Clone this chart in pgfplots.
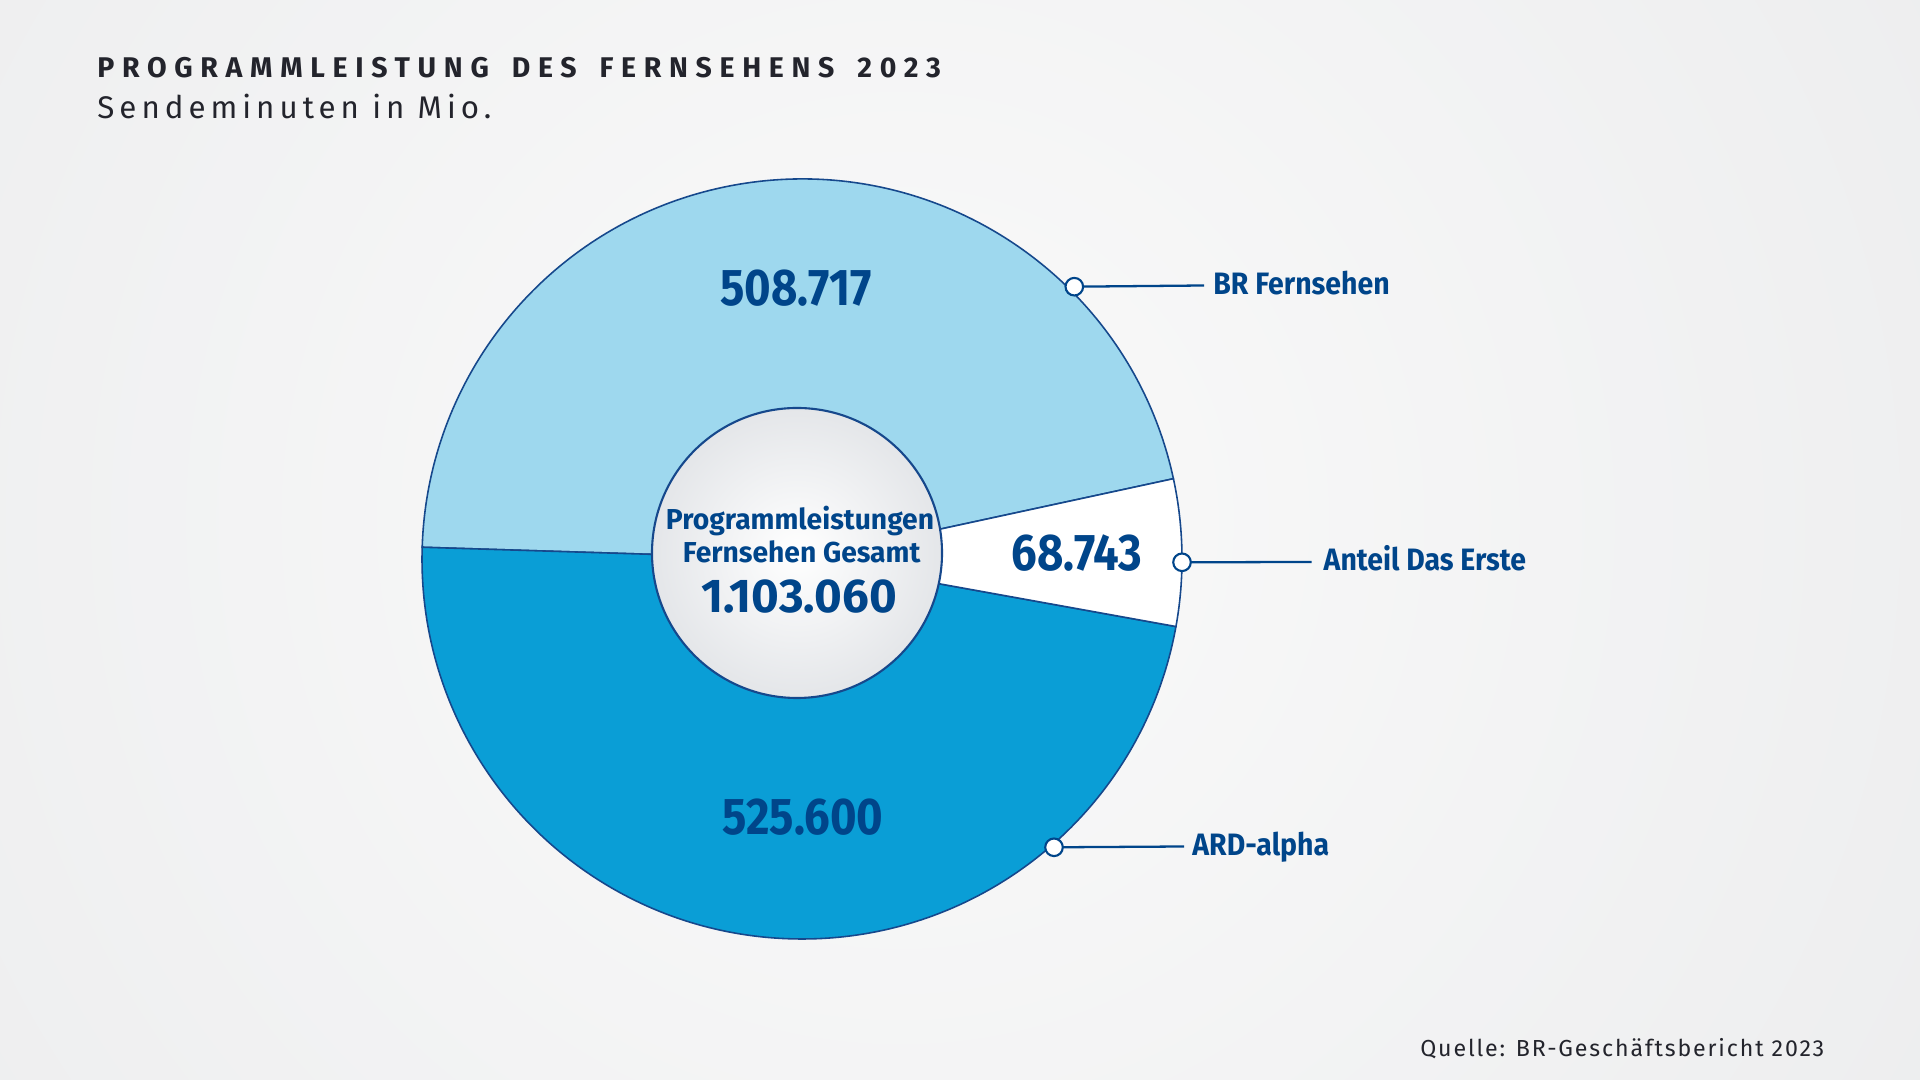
\documentclass[border=0pt]{standalone}
\usepackage{fontspec}
\setmainfont{Fira Sans}
\newfontfamily\titlefont{Fira Sans}[LetterSpace=27]
\newfontfamily\subfont{Fira Sans}[LetterSpace=16]
\newfontfamily\srcfont{Fira Sans}[LetterSpace=8]
\newfontfamily\labfont{Fira Sans}[FakeStretch=0.92]
\newfontfamily\midfont{Fira Sans}[FakeStretch=0.98]
\newfontfamily\valfont{Fira Sans}[FakeStretch=0.88]
\usepackage{pgfplots}
\pgfplotsset{compat=1.18}
\usepackage{pgfplotstable}

\definecolor{navy}{RGB}{0,69,138}
\definecolor{lineblue}{RGB}{22,72,140}
\definecolor{lightblue}{RGB}{158,216,238}
\definecolor{midblue}{RGB}{10,158,214}
\definecolor{titlegrey}{RGB}{35,36,44}
\definecolor{bgin}{RGB}{250,250,250}
\definecolor{bgout}{RGB}{228,229,231}
\definecolor{holeout}{RGB}{228,230,233}

% Sendeminuten in Mio. (Tausenderpunkt als Dezimalpunkt gespeichert)
\pgfplotstableread{
name value
BR 508.717
Erste 68.743
ARD 525.600
}\sendetable

\pgfplotstablegetelem{0}{value}\of\sendetable \let\vBR\pgfplotsretval
\pgfplotstablegetelem{1}{value}\of\sendetable \let\vDE\pgfplotsretval
\pgfplotstablegetelem{2}{value}\of\sendetable \let\vARD\pgfplotsretval
\pgfmathsetmacro\total{\vBR+\vDE+\vARD}
\def\astart{12.2}
\pgfmathsetmacro\aBR{\astart+360*(\vBR/\total)}
\pgfmathsetmacro\aARD{\aBR+360*(\vARD/\total)}
\pgfmathsetmacro\aend{\astart+360}

\newcommand\num[1]{\pgfmathprintnumber[assume math mode=true, fixed, fixed zerofill, precision=3, 1000 sep={.}]{#1}}
\newcommand\ws{\ \hspace{0.3em}}

\begin{document}
\begin{tikzpicture}
\begin{axis}[
  scale only axis, width=19.2cm, height=10.8cm,
  xmin=0, xmax=1920, ymin=0, ymax=1080,
  hide axis, clip=false,
]
  % Hintergrund
  \fill[bgout] (axis cs:0,0) rectangle (axis cs:1920,1080);
  \begin{scope}
    \clip (axis cs:0,0) rectangle (axis cs:1920,1080);
    \shade[inner color=bgin, outer color=bgout] (axis cs:900,560) circle[radius=20cm];
  \end{scope}

  % Ring
  \filldraw[fill=lightblue, draw=lineblue, line width=0.45pt]
    (axis cs:802,521) -- ++(\astart:3.8cm) arc[start angle=\astart, end angle=\aBR, radius=3.8cm] -- cycle;
  \filldraw[fill=midblue, draw=lineblue, line width=0.45pt]
    (axis cs:802,521) -- ++(\aBR:3.8cm) arc[start angle=\aBR, end angle=\aARD, radius=3.8cm] -- cycle;
  \filldraw[fill=white, draw=lineblue, line width=0.45pt]
    (axis cs:802,521) -- ++(\aARD:3.8cm) arc[start angle=\aARD, end angle=\aend, radius=3.8cm] -- cycle;

  % Mitte
  \shade[inner color=white, outer color=holeout] (axis cs:797,527) circle[radius=1.45cm];
  \draw[lineblue, line width=0.6pt] (axis cs:797,527) circle[radius=1.45cm];

  % Beschriftungslinien
  \addplot[navy, line width=0.65pt, mark=*, mark indices={1},
    mark options={fill=white, draw=navy, line width=0.6pt}, mark size=2.5pt]
    coordinates {(1074.3,793.3) (1204,794.5)};
  \addplot[navy, line width=0.65pt, mark=*, mark indices={1},
    mark options={fill=white, draw=navy, line width=0.6pt}, mark size=2.5pt]
    coordinates {(1182,517.7) (1311.7,518)};
  \addplot[navy, line width=0.65pt, mark=*, mark indices={1},
    mark options={fill=white, draw=navy, line width=0.6pt}, mark size=2.5pt]
    coordinates {(1054,232.7) (1184,233.5)};

  % Texte
  \node[anchor=base west, inner sep=0, text=titlegrey, font=\titlefont\bfseries\fontsize{8.1}{9}\selectfont]
    at (axis cs:96.7,1002.7) {PROGRAMMLEISTUNG\ws DES\ws FERNSEHENS\ws 2023};
  \node[anchor=base west, inner sep=0, text=titlegrey, font=\subfont\fontsize{8.9}{10}\selectfont]
    at (axis cs:96.7,961.7) {Sendeminuten in Mio.};
  \node[anchor=base east, inner sep=0, text=titlegrey, font=\srcfont\fontsize{6.6}{8}\selectfont]
    at (axis cs:1825,23.3) {Quelle: BR-Geschäftsbericht 2023};

  \node[anchor=base, inner sep=0, text=navy, font=\valfont\bfseries\fontsize{14.7}{16}\selectfont]
    at (axis cs:796,774) {\num{\vBR}};
  \node[anchor=base, inner sep=0, text=navy, font=\valfont\bfseries\fontsize{14.7}{16}\selectfont]
    at (axis cs:1077,509) {\num{\vDE}};
  \node[anchor=base, inner sep=0, text=navy, font=\valfont\bfseries\fontsize{14.7}{16}\selectfont]
    at (axis cs:803,245) {\num{\vARD}};

  \node[anchor=base, inner sep=0, text=navy, font=\midfont\bfseries\fontsize{8.2}{9}\selectfont]
    at (axis cs:800,550) {Programmleistungen};
  \node[anchor=base, inner sep=0, text=navy, font=\midfont\bfseries\fontsize{8.2}{9}\selectfont]
    at (axis cs:801.7,517) {Fernsehen Gesamt};
  \node[anchor=base, inner sep=0, text=navy, font=\bfseries\fontsize{13.5}{15}\selectfont]
    at (axis cs:799,467) {\num{\total}};

  \node[anchor=base west, inner sep=0, text=navy, font=\labfont\bfseries\fontsize{8.8}{10}\selectfont]
    at (axis cs:1212.7,785) {BR Fernsehen};
  \node[anchor=base west, inner sep=0, text=navy, font=\labfont\bfseries\fontsize{8.8}{10}\selectfont]
    at (axis cs:1323,509.3) {Anteil Das Erste};
  \node[anchor=base west, inner sep=0, text=navy, font=\labfont\bfseries\fontsize{8.8}{10}\selectfont]
    at (axis cs:1191.7,224) {ARD-alpha};
\end{axis}
\end{tikzpicture}
\end{document}
